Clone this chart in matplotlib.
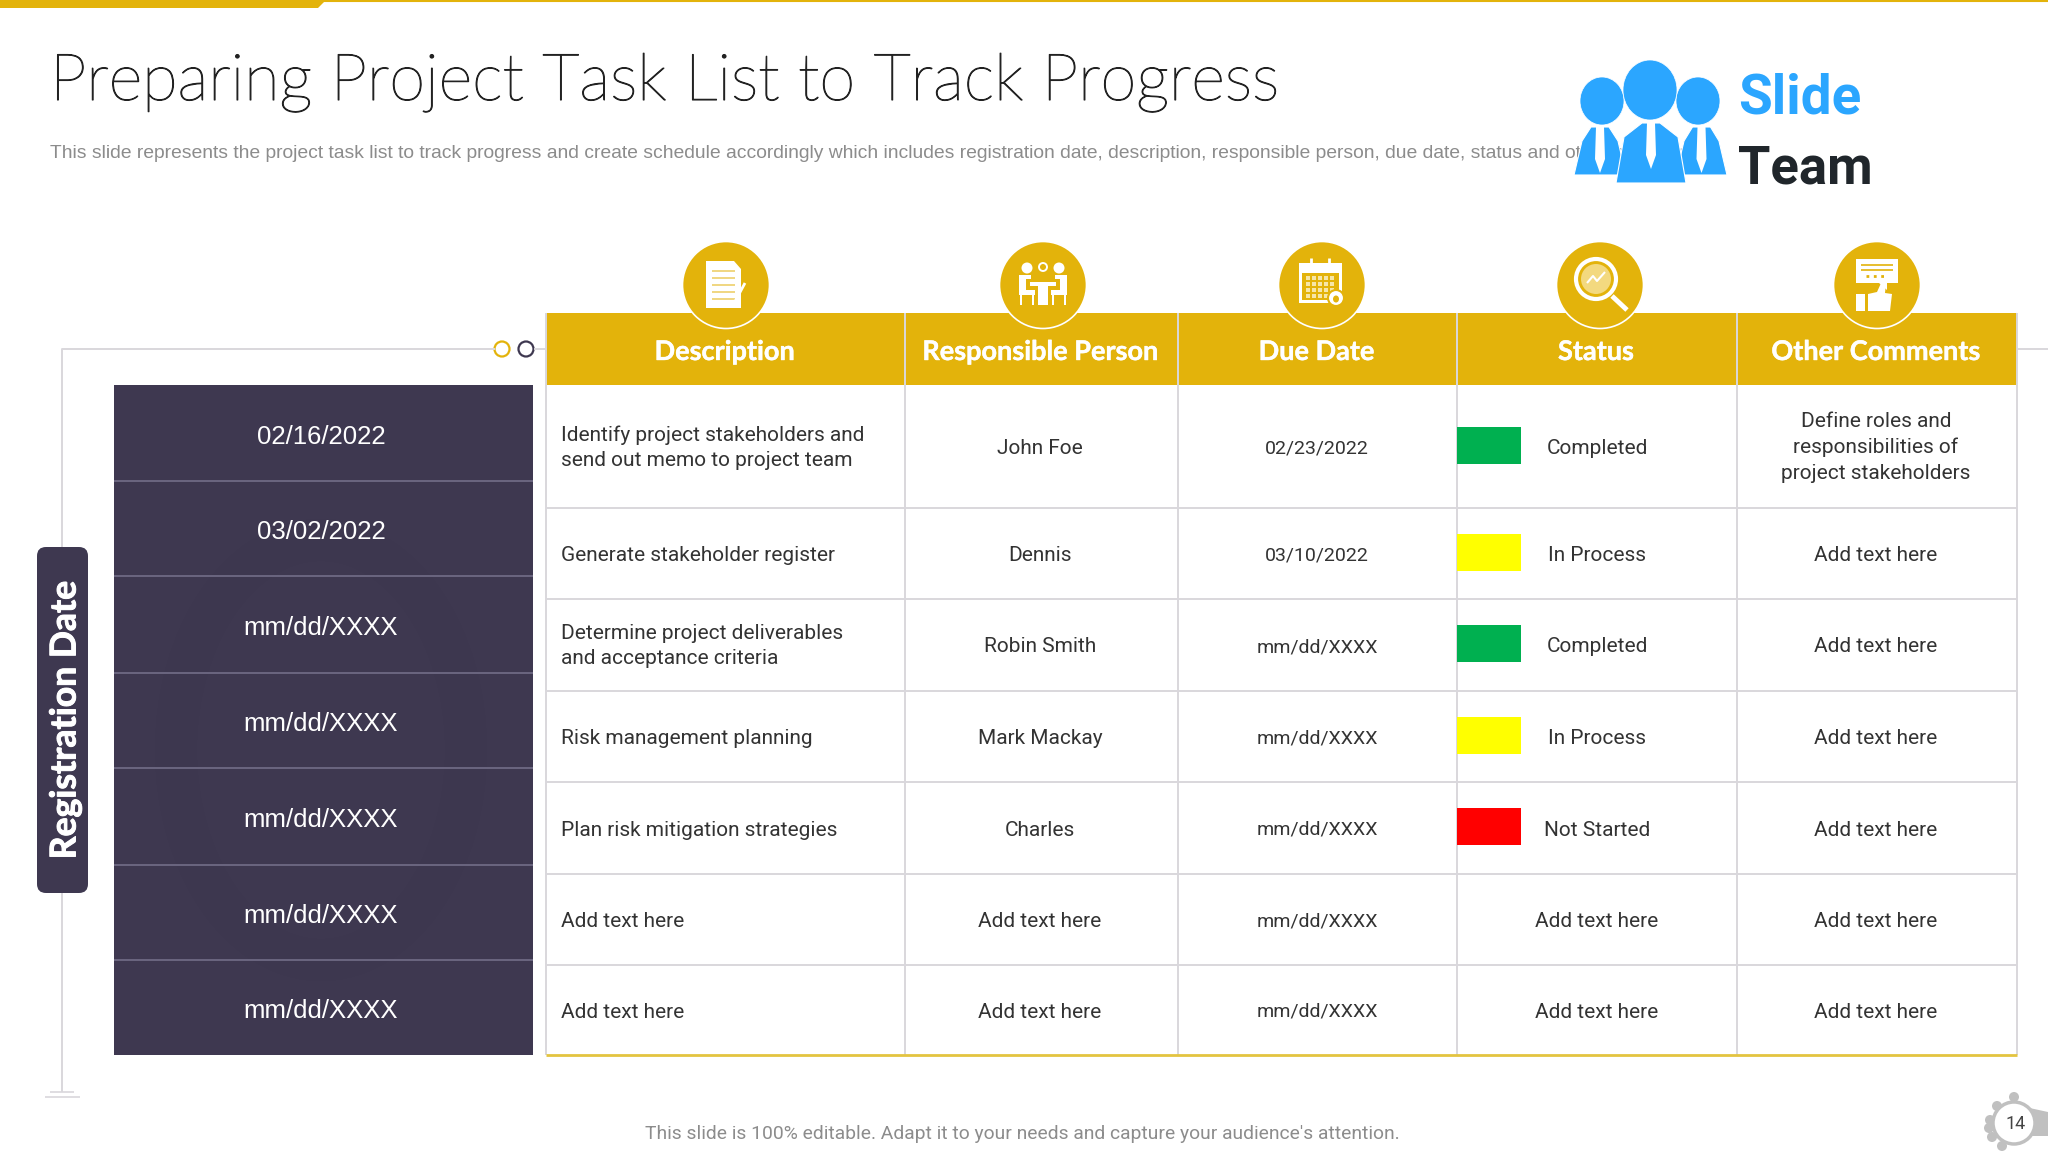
import matplotlib
matplotlib.use('Agg')
import matplotlib.pyplot as plt
import matplotlib.patheffects as pe
from matplotlib.patches import Rectangle, Ellipse, Polygon, FancyBboxPatch

# table content
reg_dates = ['02/16/2022', '03/02/2022', 'mm/dd/XXXX', 'mm/dd/XXXX', 'mm/dd/XXXX', 'mm/dd/XXXX', 'mm/dd/XXXX']
headers = ['Description', 'Responsible Person', 'Due Date', 'Status', 'Other Comments']
descriptions = ['Identify project stakeholders and\nsend out memo to project team', 'Generate stakeholder register',
                'Determine project deliverables\nand acceptance criteria', 'Risk management planning',
                'Plan risk mitigation strategies', 'Add text here', 'Add text here']
people = ['John Foe', 'Dennis', 'Robin Smith', 'Mark Mackay', 'Charles', 'Add text here', 'Add text here']
due_dates = ['02/23/2022', '03/10/2022', 'mm/dd/XXXX', 'mm/dd/XXXX', 'mm/dd/XXXX', 'mm/dd/XXXX', 'mm/dd/XXXX']
statuses = ['Completed', 'In Process', 'Completed', 'In Process', 'Not Started', 'Add text here', 'Add text here']
comments = ['Define roles and\nresponsibilities of\nproject stakeholders', 'Add text here', 'Add text here', 'Add text here',
            'Add text here', 'Add text here', 'Add text here']
status_colors = {'Completed': '#00b050', 'In Process': '#ffff00', 'Not Started': '#ff0000'}

# layout in pixels
col_x = [546, 905, 1178, 1457, 1737, 2017]
row_y = [385, 508, 599, 691, 782, 874, 965, 1055]
panel_y = [385, 481, 576, 673, 768, 865, 960, 1055]
icon_x = [726, 1043, 1322, 1600, 1877]

GOLD = '#e3b30b'
DARK = '#3e3850'
LINE = '#d9d7dc'
BLUE = '#2ba6ff'

fig = plt.figure(figsize=(20.48, 11.52), dpi=100)
ax = fig.add_axes([0, 0, 1, 1])
ax.set_xlim(0, 2048)
ax.set_ylim(1152, 0)
ax.axis('off')
plt.rcParams['lines.solid_capstyle'] = 'butt'

# top bar
ax.add_patch(Polygon([(0, 0), (326, 0), (318, 8), (0, 8)], color=GOLD, lw=0))
ax.plot([0, 2048], [0.8, 0.8], color=GOLD, lw=1.5)

title = ax.text(50, 100, 'Preparing Project Task List to Track Progress', family='Lato', weight='light',
                fontsize=46.8, color='#222222', va='baseline')
title.set_path_effects([pe.withStroke(linewidth=0.8, foreground='#222222')])
ax.text(50, 153, 'This slide represents the project task list to track progress and create schedule accordingly which '
        'includes registration date, description, responsible person, due date, status and other comments.',
        family='Liberation Sans', fontsize=13.85, color='#8c8c8c', va='center')

# connector lines
ax.plot([62, 62, 495], [1092, 349, 349], color=LINE, lw=1.4)
ax.plot([2017, 2048], [349, 349], color=LINE, lw=1.4)
ax.plot([50, 74], [1092, 1092], color=LINE, lw=1.2)
ax.plot([45, 80], [1097, 1097], color=LINE, lw=1.2)
ax.add_patch(Ellipse((502, 349), 15, 15, fc='white', ec=GOLD, lw=1.6))
ax.add_patch(Ellipse((526, 349), 15, 15, fc='white', ec=DARK, lw=1.6))
ax.plot([534, 546], [349, 349], color=LINE, lw=1.4)

# registration date pill
ax.add_patch(FancyBboxPatch((42, 552), 41, 336, boxstyle='round,pad=5,rounding_size=9', fc=DARK, ec='none', zorder=3))
reg = ax.text(65, 720, 'Registration Date', family='Lato', weight='bold', fontsize=25.6, color='white',
              rotation=90, ha='center', va='center', zorder=4)
reg.set_path_effects([pe.withStroke(linewidth=0.7, foreground='white')])

# date panel
ax.add_patch(Rectangle((114, panel_y[0]), 419, panel_y[-1] - panel_y[0], fc=DARK, ec='none'))
ax.add_patch(Ellipse((321, 750), 290, 420, fc='none', ec='#3d374f', lw=30, zorder=1.5))
for i, d in enumerate(reg_dates):
    if i:
        ax.plot([114, 533], [panel_y[i], panel_y[i]], color='#6b6680', lw=1.4, zorder=2)
    ax.text(321, (panel_y[i] + panel_y[i + 1]) / 2 + 1, d, family='Liberation Sans', fontsize=18.5,
            color='white', ha='center', va='center_baseline', zorder=3)

# table header
ax.add_patch(Rectangle((col_x[0], 313), col_x[-1] - col_x[0], 72, fc=GOLD, ec='none'))
for i, h in enumerate(headers):
    t = ax.text((col_x[i] + col_x[i + 1]) / 2 - 1, 350, h, family='Lato', weight='bold', fontsize=19.5,
                color='white', ha='center', va='center_baseline')
    t.set_path_effects([pe.withStroke(linewidth=0.3, foreground='white')])

# grid
for x in col_x:
    ax.plot([x, x], [313, row_y[-1]], color=LINE, lw=1.4, zorder=2)
for y in row_y[1:-1]:
    ax.plot([col_x[0], col_x[-1]], [y, y], color=LINE, lw=1.4, zorder=2)
ax.plot([col_x[0], col_x[-1]], [row_y[-1], row_y[-1]], color='#e3c440', lw=2, zorder=3)


def cell(x, y, s, ha='center', size=15):
    # several lines centre on the whole block, one line on its letters
    if '\n' in s:
        ax.text(x, y + 1, s, ha=ha, va='center', family='Roboto', fontsize=size, color='#333333', linespacing=1.42)
    else:
        ax.text(x, y, s, ha=ha, va='center_baseline', family='Roboto', fontsize=size, color='#333333')


for i in range(len(reg_dates)):
    yc = (row_y[i] + row_y[i + 1]) / 2
    cell(561, yc, descriptions[i], ha='left')
    cell(1040, yc, people[i])
    cell(1317, yc, due_dates[i], size=14)
    if statuses[i] in status_colors:
        ax.add_patch(Rectangle((col_x[3], yc - 20), 64, 37, fc=status_colors[statuses[i]], ec='none', zorder=3))
    cell(1597, yc, statuses[i])
    cell(1876, yc, comments[i])


def doc_icon(cx, cy):
    ax.add_patch(Polygon([(cx - 20, cy - 24), (cx + 8, cy - 24), (cx + 15, cy - 16), (cx + 15, cy + 23), (cx - 20, cy + 23)],
                         fc='white', ec='none', zorder=6))
    for dy in (-14, -7, 0, 7, 14):
        ax.plot([cx - 14, cx + 9], [cy + dy, cy + dy], color='#f0d680', lw=1.4, zorder=7)
    ax.plot([cx + 6, cx + 19], [cy + 22, cy - 2], color='white', lw=2, zorder=7)


def team_icon(cx, cy):
    for dx in (-16, 16):
        ax.add_patch(Ellipse((cx + dx, cy - 17), 11, 11, fc='white', ec='none', zorder=6))
    ax.add_patch(Ellipse((cx, cy - 18), 8, 8, fc='none', ec='white', lw=1.4, zorder=6))
    ax.add_patch(Rectangle((cx - 13, cy - 3), 26, 4, fc='white', ec='none', zorder=6))
    ax.add_patch(Rectangle((cx - 5, cy + 1), 10, 19, fc='white', ec='none', zorder=6))
    for s in (-1, 1):
        ax.add_patch(Polygon([(cx + s * 12, cy - 10), (cx + s * 12, cy - 6), (cx + s * 17, cy - 6), (cx + s * 17, cy + 5),
                              (cx + s * 8, cy + 5), (cx + s * 8, cy + 10), (cx + s * 24, cy + 10), (cx + s * 24, cy - 10)],
                             fc='white', ec='none', zorder=6))
        ax.add_patch(Rectangle((cx + s * 23 - (2 if s > 0 else 0), cy + 10), 2, 10, fc='white', ec='none', zorder=6))
        ax.add_patch(Rectangle((cx + s * 11 - (2 if s > 0 else 0), cy + 10), 2, 10, fc='white', ec='none', zorder=6))


def calendar_icon(cx, cy):
    ax.add_patch(Rectangle((cx - 23, cy - 22), 43, 40, fc='white', ec='none', zorder=6))
    ax.add_patch(Rectangle((cx - 20, cy - 12), 37, 27, fc=GOLD, ec='none', zorder=6))
    for dy in (-9, -3, 3, 9):
        for dx in (-16, -10, -4, 2, 8):
            ax.add_patch(Rectangle((cx + dx, cy + dy), 4, 4, fc='#f6e6a8', ec='none', zorder=7))
    for dx in (-11, 7):
        ax.plot([cx + dx, cx + dx], [cy - 27, cy - 17], color='white', lw=2, zorder=7)
    ax.add_patch(Ellipse((cx + 14, cy + 13), 16, 16, fc='white', ec=GOLD, lw=1.5, zorder=8))
    ax.add_patch(Ellipse((cx + 14, cy + 14), 6, 7, fc=GOLD, ec='none', zorder=9))


def search_icon(cx, cy):
    ax.add_patch(Ellipse((cx - 4, cy - 6), 40, 40, fc='none', ec='white', lw=3, zorder=6))
    ax.add_patch(Ellipse((cx - 4, cy - 6), 30, 30, fc='#f3d97f', ec='none', zorder=6))
    ax.plot([cx - 13, cx - 7, cx - 3, cx + 5], [cy - 2, cy - 9, cy - 4, cy - 13], color='white', lw=1.5, zorder=7)
    ax.plot([cx + 12, cx + 27], [cy + 11, cy + 25], color='white', lw=3.5, zorder=7)


def comment_icon(cx, cy):
    ax.add_patch(Polygon([(cx - 21, cy - 26), (cx + 21, cy - 26), (cx + 21, cy - 2), (cx + 10, cy - 2), (cx + 10, cy + 5),
                          (cx + 2, cy - 2), (cx - 21, cy - 2)], fc='white', ec='none', zorder=6))
    for dy in (-20, -15):
        ax.plot([cx - 16, cx + 16], [cy + dy, cy + dy], color=GOLD, lw=1.2, zorder=7)
    ax.plot([cx - 11, cx + 11], [cy - 9, cy - 9], color=GOLD, lw=2, ls=':', zorder=7)
    ax.add_patch(Rectangle((cx - 21, cy + 9), 9, 17, fc='white', ec='none', zorder=6))
    ax.add_patch(Polygon([(cx - 9, cy + 9), (cx, cy + 7), (cx + 5, cy - 4), (cx + 9, cy - 2), (cx + 8, cy + 8), (cx + 15, cy + 9),
                          (cx + 13, cy + 26), (cx - 9, cy + 26)], fc='white', ec='none', zorder=6))


# header icons
icons = [doc_icon, team_icon, calendar_icon, search_icon, comment_icon]
for x, draw in zip(icon_x, icons):
    ax.add_patch(Ellipse((x, 285), 87, 87, fc=GOLD, ec='white', lw=1.2, zorder=5))
    draw(x, 285)

# logo
for cx, cy, rx, ry in [(1602, 101, 22, 24), (1698, 101, 22, 24), (1650, 90, 27, 30)]:
    ax.add_patch(Ellipse((cx, cy), 2 * rx, 2 * ry, fc=BLUE, ec='white', lw=0.5, zorder=8))
for l, r, t, b in [(1573, 1627, 127, 175), (1675, 1728, 127, 175), (1615, 1687, 123, 183)]:
    m = (l + r) / 2
    ax.add_patch(Polygon([(l + 1, b), (l + 9, t + 14), (m - 9, t), (m + 9, t), (r - 9, t + 14), (r - 1, b)],
                         fc=BLUE, ec='white', lw=0.8, joinstyle='round', zorder=9))
    ax.add_patch(Polygon([(m - 4, t), (m + 4, t), (m + 5, t + 32), (m, t + 46), (m - 5, t + 32)], fc='white', ec='none', zorder=10))
ax.text(1738, 113, 'Slide', family='Roboto', weight='bold', fontsize=39.5, color=BLUE, va='baseline', zorder=10)
ax.text(1738, 183, 'Team', family='Roboto', weight='bold', fontsize=37.8, color='#20262b', va='baseline', zorder=10)

# footer
ax.text(1022, 1134, "This slide is 100% editable. Adapt it to your needs and capture your audience's attention.",
        family='Roboto', fontsize=13.9, color='#8c8c8c', ha='center', va='center')

# page number badge
ax.add_patch(Polygon([(2025, 1107), (2048, 1112), (2048, 1136), (2025, 1136)], fc='#c0c0c0', ec='none'))
for dx, dy in [(0, -26), (-17, -17), (-24, -3), (-25, 5), (-22, 14), (-12, 23)]:
    ax.add_patch(Ellipse((2014 + dx, 1123 + dy), 10, 10, fc='#c0c0c0', ec='none'))
ax.add_patch(Ellipse((2014, 1123), 42, 42, fc='white', ec='#c0c0c0', lw=2.5, zorder=3))
ax.text(2016, 1124, '14', family='Roboto', fontsize=13, color='#444444', ha='center', va='center', zorder=4)

fig.savefig('out.png', dpi=100)
